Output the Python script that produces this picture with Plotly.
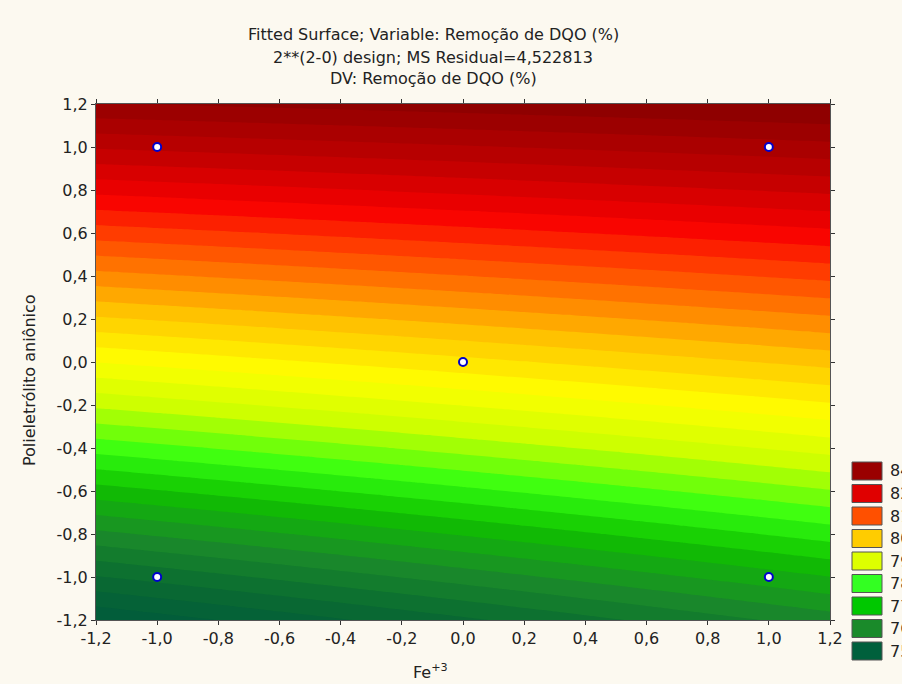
import numpy as np
import plotly.graph_objects as go

# Design points (coded levels) and observed responses
fe3 = [-1, 1, -1, 1, 0]
poli = [-1, -1, 1, 1, 0]
remocao = [73.2, 74.8, 83.8, 84.3, 81.4]

tick_vals = [-1.2, -1.0, -0.8, -0.6, -0.4, -0.2, 0.0, 0.2, 0.4, 0.6, 0.8, 1.0, 1.2]
tick_text = ["-1,2", "-1,0", "-0,8", "-0,6", "-0,4", "-0,2", "0,0", "0,2", "0,4", "0,6", "0,8", "1,0", "1,2"]

legend_labels = ["84", "82", "81", "80", "79", "78", "77", "76", "75"]
legend_colors = ["#9a0000", "#e00000", "#ff5000", "#ffcc00", "#ddff00",
                 "#33ff22", "#00c800", "#1a8a2a", "#00603c"]

title_lines = ["Fitted Surface; Variable: Remoção de DQO (%)",
               "2**(2-0) design; MS Residual=4,522813",
               "DV: Remoção de DQO (%)"]

# Fit first-order model with interaction: z = b0 + b1 x + b2 y + b12 x y
X = np.column_stack([np.ones(5), fe3, poli, np.array(fe3) * np.array(poli)])
coef, *_ = np.linalg.lstsq(X, np.array(remocao), rcond=None)

gx = np.linspace(-1.2, 1.2, 121)
gy = np.linspace(-1.2, 1.2, 121)
GX, GY = np.meshgrid(gx, gy)
Z = coef[0] + coef[1] * GX + coef[2] * GY + coef[3] * GX * GY

zmin, zmax = 72.4, 85.8
stops = [(72.4, "#005a3c"), (73.5, "#0a6a32"), (74.6, "#1a8a2a"), (75.8, "#10c000"),
         (76.7, "#33ff11"), (77.9, "#ccff00"), (79.0, "#ffff00"), (80.3, "#ffc000"),
         (81.2, "#ff8000"), (82.1, "#ff4000"), (83.0, "#f80000"), (84.2, "#c00000"),
         (85.8, "#880000")]
colorscale = [[(v - zmin) / (zmax - zmin), c] for v, c in stops]

FONT = "DejaVu Sans, Verdana, sans-serif"
TXT = "#222222"

fig = go.Figure()
fig.add_trace(go.Contour(
    x=gx, y=gy, z=Z, colorscale=colorscale, zmin=zmin, zmax=zmax,
    contours=dict(coloring="fill", start=72.4, end=85.8, size=0.38, showlines=False),
    line=dict(width=0), showscale=False, hoverinfo="skip"))
fig.add_trace(go.Scatter(
    x=fe3, y=poli, mode="markers",
    marker=dict(size=8, color="white", line=dict(color="#0000cc", width=2)),
    showlegend=False))

# Layout in pixels -> paper coords
L, R, T, B = 96, 72, 104, 64
W, H = 902 - L - R, 684 - T - B
def px(x):
    return (x - L) / W
def py(y):
    return (684 - B - y) / H

shapes = []
annotations = []
for i, (lab, col) in enumerate(zip(legend_labels, legend_colors)):
    top = 462 + i * 22.5
    shapes.append(dict(type="rect", xref="paper", yref="paper",
                       x0=px(852), x1=px(882), y0=py(top + 18), y1=py(top),
                       fillcolor=col, line=dict(color="#555555", width=1)))
    annotations.append(dict(xref="paper", yref="paper", x=px(888), y=py(top + 9),
                            text=lab, showarrow=False, xanchor="left", yanchor="middle",
                            font=dict(size=16, color=TXT, family=FONT)))

for i, line in enumerate(title_lines):
    annotations.append(dict(xref="paper", yref="paper", x=px(433), y=py(35 + i * 22),
                            text=line, showarrow=False, xanchor="center", yanchor="middle",
                            font=dict(size=16, color=TXT, family=FONT)))

annotations.append(dict(xref="paper", yref="paper", x=px(29), y=py(380),
                        text="Polieletrólito aniônico", textangle=-90, showarrow=False,
                        xanchor="center", yanchor="middle",
                        font=dict(size=16, color=TXT, family=FONT)))
annotations.append(dict(xref="paper", yref="paper", x=px(430), y=py(671),
                        text="Fe<sup>+3</sup>", showarrow=False,
                        xanchor="center", yanchor="middle",
                        font=dict(size=16, color=TXT, family=FONT)))

axis_common = dict(range=[-1.2, 1.2], tickvals=tick_vals, ticktext=tick_text,
                   ticks="outside", ticklen=4, tickcolor="#333333",
                   showline=True, linecolor="#555555", linewidth=1, mirror="ticks",
                   showgrid=False, zeroline=False,
                   tickfont=dict(size=16, color=TXT, family=FONT))

fig.update_layout(
    width=902, height=684,
    margin=dict(l=L, r=R, t=T, b=B),
    paper_bgcolor="#fcf9f0", plot_bgcolor="#fcf9f0",
    font=dict(family=FONT, size=16, color=TXT),
    xaxis=axis_common, yaxis=axis_common,
    shapes=shapes, annotations=annotations,
)

fig.write_html("out.html")
